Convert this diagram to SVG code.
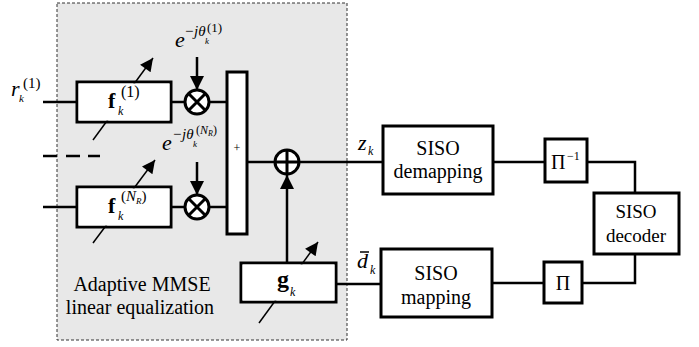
<svg xmlns="http://www.w3.org/2000/svg" width="699" height="347" viewBox="0 0 699 347">
<style>
.box{fill:#fff;stroke:#000;stroke-width:3}
.ln{fill:none;stroke:#000;stroke-width:2.5}
.thin{fill:none;stroke:#000;stroke-width:1.5}
text{font-family:"Liberation Serif","DejaVu Serif","Times New Roman",serif;fill:#000}
.t{font-size:20px}
.m{font-style:italic}
.b{font-weight:bold}
</style>
<defs>
<marker id="ah" viewBox="0 0 10 10" refX="10" refY="5" markerWidth="16" markerHeight="14" markerUnits="userSpaceOnUse" orient="auto">
<path d="M0,0 L10,5 L0,10 z" fill="#000"/>
</marker>
<marker id="ahs" viewBox="0 0 10 10" refX="10" refY="5" markerWidth="15" markerHeight="13" markerUnits="userSpaceOnUse" orient="auto">
<path d="M0,0 L10,5 L0,10 z" fill="#000"/>
</marker>
</defs>

<g id="equalizer-region">
<rect x="57" y="3" width="290" height="337" fill="#e8e8e8" stroke="#333" stroke-width="1" stroke-dasharray="3,2"/>
<text class="t" x="142" y="291" text-anchor="middle" font-family="Liberation Serif, serif">Adaptive MMSE</text>
<text class="t" x="140" y="314" text-anchor="middle" font-family="Liberation Serif, serif">linear equalization</text>
</g>

<g id="connectors">
<line class="ln" x1="43" y1="102" x2="77" y2="102"/>
<line class="ln" x1="171" y1="102" x2="185" y2="102"/>
<line class="ln" x1="209" y1="102" x2="227" y2="102"/>
<line class="ln" x1="43" y1="207" x2="77" y2="207"/>
<line class="ln" x1="171" y1="207" x2="185" y2="207"/>
<line class="ln" x1="209" y1="207" x2="227" y2="207"/>
<g stroke="#000" stroke-width="2.5">
<line x1="43" y1="156" x2="57" y2="156"/>
<line x1="66" y1="156" x2="80" y2="156"/>
<line x1="88" y1="156" x2="100" y2="156"/>
</g>
<line class="ln" x1="197" y1="57" x2="197" y2="90" marker-end="url(#ah)"/>
<line class="ln" x1="197" y1="162" x2="197" y2="195" marker-end="url(#ah)"/>
<line class="ln" x1="247" y1="162" x2="383" y2="162"/>
<line class="ln" x1="287" y1="263" x2="287" y2="175" marker-end="url(#ah)"/>
<line class="ln" x1="336" y1="284" x2="381" y2="284"/>
<line class="ln" x1="493" y1="162" x2="545" y2="162"/>
<polyline class="ln" points="587,162 635,162 635,193"/>
<polyline class="ln" points="635,254 635,283 582,283"/>
<line class="ln" x1="544" y1="283" x2="492" y2="283"/>
</g>

<g id="f1">
<rect class="box" x="77" y="82" width="94" height="40"/>
<line class="thin" x1="93" y1="140" x2="153" y2="58" marker-end="url(#ahs)"/>
<rect x="78.5" y="83.5" width="91" height="37" fill="#fff"/>
<text class="b" x="108" y="108" font-size="22">f</text>
<text class="m" x="118" y="115" font-size="12">k</text>
<text x="121" y="97" font-size="16">(1)</text>
</g>

<g id="fNR">
<rect class="box" x="77" y="187" width="94" height="40"/>
<line class="thin" x1="93" y1="243" x2="155" y2="160" marker-end="url(#ahs)"/>
<rect x="78.5" y="188.5" width="91" height="37" fill="#fff"/>
<text class="b" x="108" y="213" font-size="22">f</text>
<text class="m" x="118" y="220" font-size="12">k</text>
<text x="121" y="201" font-size="15">(<tspan font-style="italic">N</tspan><tspan font-style="italic" font-size="9" dy="3">R</tspan><tspan dy="-3">)</tspan></text>
</g>

<g id="mult1">
<circle cx="197" cy="102" r="12" fill="#fff" stroke="#000" stroke-width="3"/>
<path d="M188.5,93.5 L205.5,110.5 M205.5,93.5 L188.5,110.5" stroke="#000" stroke-width="3"/>
<text class="m" x="175" y="47" font-size="22">e</text>
<text class="m" x="184" y="36" font-size="15">−jθ</text>
<text class="m" x="205" y="44" font-size="9">k</text>
<text x="207" y="32" font-size="13">(1)</text>
</g>

<g id="multNR">
<circle cx="197" cy="207" r="12" fill="#fff" stroke="#000" stroke-width="3"/>
<path d="M188.5,198.5 L205.5,215.5 M205.5,198.5 L188.5,215.5" stroke="#000" stroke-width="3"/>
<text class="m" x="162" y="150" font-size="22">e</text>
<text class="m" x="172" y="139" font-size="15">−jθ</text>
<text class="m" x="193" y="147" font-size="9">k</text>
<text x="196" y="134" font-size="12">(<tspan font-style="italic">N</tspan><tspan font-style="italic" font-size="8" dy="2">R</tspan><tspan dy="-2">)</tspan></text>
</g>

<g id="input-label">
<text class="m" x="11" y="96" font-size="22">r</text>
<text class="m" x="19" y="102" font-size="11">k</text>
<text x="23" y="88" font-size="15">(1)</text>
</g>

<g id="sum">
<rect class="box" x="227" y="72" width="20" height="162"/>
<text x="237" y="152" font-size="12" text-anchor="middle">+</text>
</g>

<g id="adder">
<circle cx="287" cy="162" r="12" fill="#fff" stroke="#000" stroke-width="3"/>
<path d="M275,162 L299,162 M287,150 L287,174" stroke="#000" stroke-width="3"/>
</g>

<g id="g">
<rect class="box" x="241" y="263" width="95" height="39"/>
<line class="thin" x1="259" y1="323" x2="318" y2="242" marker-end="url(#ahs)"/>
<rect x="242.5" y="264.5" width="92" height="36" fill="#fff"/>
<text class="b" x="277" y="287" font-size="24">g</text>
<text class="m" x="290" y="296" font-size="12">k</text>
</g>

<g id="zk-label">
<text class="m" x="358" y="150" font-size="22">z</text>
<text class="m" x="368" y="155" font-size="12">k</text>
</g>

<g id="dk-label">
<text class="m" x="357" y="268" font-size="22">d</text>
<line x1="360" y1="252" x2="369" y2="252" stroke="#000" stroke-width="1.5"/>
<text class="m" x="370" y="274" font-size="12">k</text>
</g>

<g id="siso-demapping">
<rect class="box" x="383" y="126" width="110" height="68"/>
<text class="t" x="438" y="155" text-anchor="middle">SISO</text>
<text class="t" x="438" y="178" text-anchor="middle">demapping</text>
</g>

<g id="deinterleaver">
<rect class="box" x="545" y="139" width="42" height="43"/>
<text class="t" x="551" y="169">Π</text>
<text x="567" y="160" font-size="12">−1</text>
</g>

<g id="siso-decoder">
<rect class="box" x="594" y="193" width="85" height="61"/>
<text x="636" y="218" font-size="19" text-anchor="middle">SISO</text>
<text x="636" y="242" font-size="19" text-anchor="middle">decoder</text>
</g>

<g id="interleaver">
<rect class="box" x="544" y="262" width="38" height="41"/>
<text class="t" x="563" y="290" text-anchor="middle">Π</text>
</g>

<g id="siso-mapping">
<rect class="box" x="381" y="249" width="111" height="68"/>
<text class="t" x="436" y="280" text-anchor="middle">SISO</text>
<text class="t" x="436" y="304" text-anchor="middle">mapping</text>
</g>
</svg>
